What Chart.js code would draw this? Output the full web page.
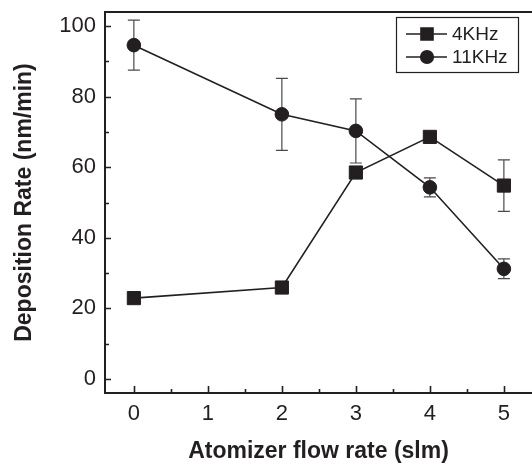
<!DOCTYPE html>
<html><head><meta charset="utf-8">
<script src="https://cdn.jsdelivr.net/npm/chart.js@4/dist/chart.umd.min.js"></script>
<style>html,body{margin:0;padding:0;background:#fff;overflow:hidden}canvas{display:block}</style>
</head><body>
<canvas id="c" width="532" height="464"></canvas>
<script>
const flowRates = [0, 2, 3, 4, 5];
const rate4kHz = [22.9, 25.9, 58.5, 68.6, 54.8];
const err4kHz = [0, 0, 0, 0, 7.3];
const rate11kHz = [94.6, 75.0, 70.3, 54.3, 31.2];
const err11kHz = [7.1, 10.2, 9.1, 2.7, 2.8];
const seriesLabels = ['4KHz', '11KHz'];
const xTickValues = [0, 1, 2, 3, 4, 5];
const yTickValues = [0, 20, 40, 60, 80, 100];
const xMinorTicks = [0.5, 1.5, 2.5, 3.5, 4.5];
const yMinorTicks = [10, 30, 50, 70, 90];
const xTitle = 'Atomizer flow rate (slm)';
const yTitle = 'Deposition Rate (nm/min)';

const INK = '#231f20';
const FAM = '"Liberation Sans", Arial, Helvetica, sans-serif';

function pts(xs, ys) { return xs.map((x, i) => ({ x: x, y: ys[i] })); }
function noPad(s) { s.paddingLeft = 0; s.paddingRight = 0; s.paddingTop = 0; s.paddingBottom = 0; }

const decor = {
  id: 'decor',
  beforeDatasetsDraw(chart) {
    const ctx = chart.ctx, ys = chart.scales.y;
    ctx.save();
    ctx.strokeStyle = '#4a4a4a';
    ctx.lineWidth = 1.2;
    chart.data.datasets.forEach((ds, di) => {
      const meta = chart.getDatasetMeta(di);
      ds.errors.forEach((e, i) => {
        if (!e) return;
        const p = meta.data[i];
        const v = ds.data[i].y;
        const yt = ys.getPixelForValue(v + e), yb = ys.getPixelForValue(v - e);
        ctx.beginPath();
        ctx.moveTo(p.x, yt); ctx.lineTo(p.x, yb);
        ctx.moveTo(p.x - 6, yt); ctx.lineTo(p.x + 6, yt);
        ctx.moveTo(p.x - 6, yb); ctx.lineTo(p.x + 6, yb);
        ctx.stroke();
      });
    });
    ctx.restore();
  },
  afterDraw(chart) {
    const ctx = chart.ctx, xs = chart.scales.x, ys = chart.scales.y, a = chart.chartArea;
    ctx.save();
    ctx.strokeStyle = INK;
    ctx.lineWidth = 1.6;
    ctx.beginPath();
    xTickValues.forEach(v => { const px = Math.round(xs.getPixelForValue(v)) + 0.5; ctx.moveTo(px, a.bottom); ctx.lineTo(px, a.bottom - 7); });
    xMinorTicks.forEach(v => { const px = Math.round(xs.getPixelForValue(v)) + 0.5; ctx.moveTo(px, a.bottom); ctx.lineTo(px, a.bottom - 4); });
    yTickValues.forEach(v => { const py = Math.round(ys.getPixelForValue(v)) + 0.5; ctx.moveTo(a.left, py); ctx.lineTo(a.left + 6, py); });
    yMinorTicks.forEach(v => { const py = Math.round(ys.getPixelForValue(v)) + 0.5; ctx.moveTo(a.left, py); ctx.lineTo(a.left + 4, py); });
    ctx.stroke();

    // legend
    const bx = 396.5, by = 17.5, bw = 122, bh = 55;
    ctx.lineWidth = 1.2;
    ctx.strokeStyle = INK;
    ctx.strokeRect(bx, by, bw, bh);
    const rows = [34, 57];
    chart.data.datasets.forEach((ds, i) => {
      const y = rows[i];
      ctx.strokeStyle = INK; ctx.lineWidth = 1.6;
      ctx.beginPath(); ctx.moveTo(406, y); ctx.lineTo(447, y); ctx.stroke();
      ctx.fillStyle = INK;
      Chart.helpers.drawPoint(ctx, { pointStyle: ds.pointStyle, radius: ds.pointStyle === 'rect' ? 8.5 : 6.3, borderWidth: 1, rotation: 0 }, 427, y);
      ctx.fillStyle = INK;
      ctx.font = '19px ' + FAM;
      ctx.textAlign = 'left'; ctx.textBaseline = 'middle';
      ctx.fillText(ds.label, 452, y + 1);
    });
    ctx.restore();
  }
};

new Chart(document.getElementById('c'), {
  type: 'line',
  data: {
    datasets: [
      { label: seriesLabels[0], data: pts(flowRates, rate4kHz), errors: err4kHz, pointStyle: 'rect',
        borderColor: INK, backgroundColor: INK, borderWidth: 1.6, pointRadius: 9.3, pointBorderWidth: 1, pointHoverRadius: 9.3, tension: 0 },
      { label: seriesLabels[1], data: pts(flowRates, rate11kHz), errors: err11kHz, pointStyle: 'circle',
        borderColor: INK, backgroundColor: INK, borderWidth: 1.6, pointRadius: 6.8, pointBorderWidth: 1, pointHoverRadius: 6.8, tension: 0 }
    ]
  },
  options: {
    responsive: false,
    animation: false,
    devicePixelRatio: 1,
    layout: { padding: 0, autoPadding: false },
    plugins: { legend: { display: false }, tooltip: { enabled: false } },
    scales: {
      x: {
        type: 'linear', position: 'bottom', min: -0.39, max: 5.38,
        afterBuildTicks: s => { s.ticks = xTickValues.map(v => ({ value: v })); },
        afterFit: s => { s.height = 71; noPad(s); },
        ticks: { autoSkip: false, maxRotation: 0, color: INK, padding: 8, font: { family: FAM, size: 22 } },
        grid: { display: true, drawOnChartArea: false, drawTicks: false },
        border: { display: true, color: INK, width: 2 },
        title: { display: true, text: xTitle, color: INK, padding: { top: 0, bottom: 1 }, font: { family: FAM, size: 23, weight: 'bold', lineHeight: 1 } }
      },
      x2: {
        type: 'linear', position: 'top', min: -0.39, max: 5.38,
        afterFit: s => { s.height = 12; noPad(s); },
        ticks: { display: false },
        grid: { display: true, drawOnChartArea: false, drawTicks: false },
        border: { display: true, color: INK, width: 2 }
      },
      y: {
        type: 'linear', position: 'left', min: -4, max: 104,
        afterBuildTicks: s => { s.ticks = yTickValues.map(v => ({ value: v })); },
        afterFit: s => { s.width = 105; noPad(s); },
        ticks: { color: INK, padding: 9, font: { family: FAM, size: 22 } },
        grid: { display: true, drawOnChartArea: false, drawTicks: false },
        border: { display: true, color: INK, width: 2 },
        title: { display: true, text: yTitle, color: INK, padding: { top: 11, bottom: 0 }, font: { family: FAM, size: 23, weight: 'bold', lineHeight: 1.2 } }
      }
    }
  },
  plugins: [decor]
});
</script>
</body></html>
